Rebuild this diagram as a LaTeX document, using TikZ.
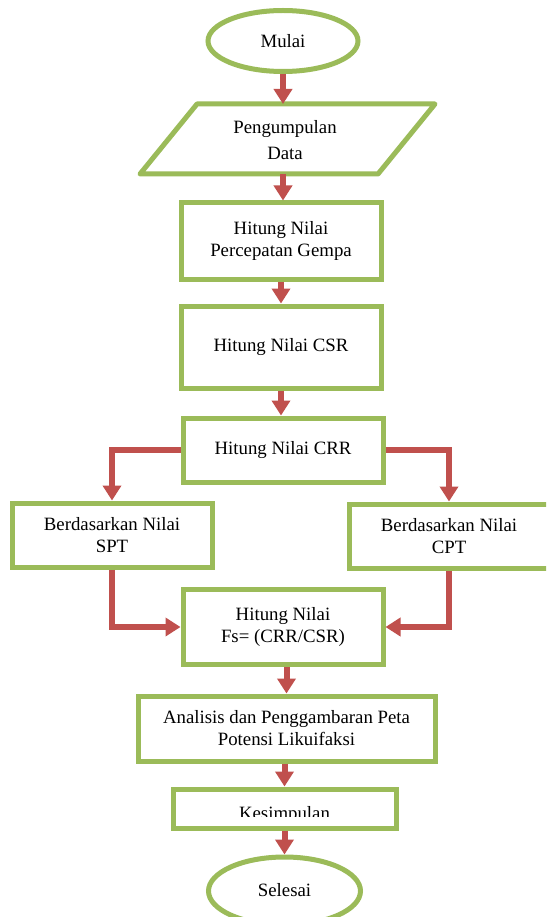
\documentclass[tikz,border=0pt]{standalone}
\usepackage{fontspec}
\setmainfont{Liberation Serif}
\usetikzlibrary{shapes.geometric,arrows.meta}
\definecolor{bordergreen}{RGB}{155,187,89}
\definecolor{arrowred}{RGB}{192,80,77}
\begin{document}
\begin{tikzpicture}[x=1pt,y=1pt,
  every node/.style={font=\fontsize{18.8}{22}\selectfont, align=center, inner sep=0pt},
  box/.style={draw=bordergreen, line width=5pt, fill=white, rectangle},
  oval/.style={draw=bordergreen, line width=5pt, fill=white, ellipse},
  conn/.style={draw=arrowred, line width=6pt, -{Triangle[length=15pt,width=18pt]}}
]
\clip (0,0) rectangle (546,-917);
\fill[white] (0,0) rectangle (546,-917);

% shapes
\node[oval, minimum width=150, minimum height=61] (mulai) at (283,-41) {\raisebox{-2pt}{Mulai}};

\draw[bordergreen, line width=5pt, line join=round, fill=white]
  (197,-104) -- (435,-104) -- (378,-174) -- (140,-174) -- cycle;
\node[font=\fontsize{18.8}{26}\selectfont] (data) at (285,-140.5) {Pengumpulan\\Data};
\coordinate (dtop) at (283,-104);
\coordinate (dbot) at (283,-174);

\node[box, minimum width=200, minimum height=76] (b1) at (281,-241) {Hitung Nilai\\Percepatan Gempa};
\node[box, minimum width=200, minimum height=82] (b2) at (281,-347) {Hitung Nilai CSR};
\node[box, minimum width=200, minimum height=64] (b3) at (283,-450) {Hitung Nilai CRR};
\node[box, minimum width=200, minimum height=64] (spt) at (112,-535) {Berdasarkan Nilai\\SPT};
\node[box, minimum width=200, minimum height=64] (cpt) at (449,-536) {Berdasarkan Nilai\\CPT};
\node[box, minimum width=200, minimum height=75] (fs) at (283,-627) {Hitung Nilai\\Fs= (CRR/CSR)};
\node[box, minimum width=297, minimum height=65] (anal) at (286.5,-728.5) {Analisis dan Penggambaran Peta\\Potensi Likuifaksi};
\node[box, minimum width=223, minimum height=39] (kes) at (284.5,-808.5) {};
\begin{scope}
  \clip (173,-791) rectangle (396,-816.5);
  \node[anchor=base] (kestext) at (284.5,-819.5) {Kesimpulan};
\end{scope}
\node[oval, minimum width=152, minimum height=68] (sel) at (284.5,-891) {\raisebox{2pt}{Selesai}};

% connectors
\draw[conn] (mulai.south) -- (dtop);
\draw[conn] (dbot) -- (dbot |- b1.north);
\draw[conn] (b1.south) -- (b1.south |- b2.north);
\draw[conn] (b2.south) -- (b2.south |- b3.north);
\draw[conn] (b3.west) -| (spt.north);
\draw[conn] (b3.east) -| (cpt.north);
\draw[conn] (spt.south) |- (fs.west);
\draw[conn] (cpt.south) |- (fs.east);
\draw[conn] (anal.north |- fs.south) -- (anal.north);
\draw[conn] (kes.north |- anal.south) -- (kes.north);
\draw[conn] (kes.south) -- (sel.north);
\end{tikzpicture}
\end{document}
